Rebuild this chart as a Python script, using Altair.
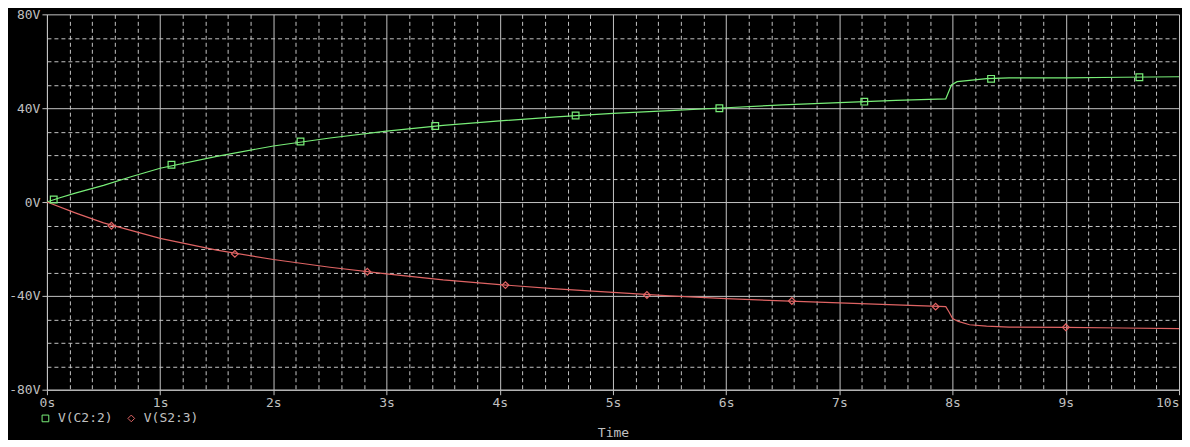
import altair as alt
import pandas as pd

# ---- data ----
series_names = ["V(C2:2)", "V(S2:3)"]

green_t = [0, 0.1, 0.25, 0.5, 0.75, 1.0, 1.5, 2.0, 2.5, 3.0, 3.5, 4.0, 4.5, 5.0, 5.5,
           6.0, 6.5, 7.0, 7.5, 7.94, 7.97, 7.99, 8.04, 8.15, 8.3, 8.5, 9.0, 9.5, 10.0]
green_v = [0, 1.6, 3.8, 7.1, 10.9, 14.4, 19.5, 23.9, 27.3, 30.2, 32.7, 34.6, 36.3, 37.8, 39.0,
           40.2, 41.4, 42.4, 43.3, 44.0, 47.5, 49.9, 51.3, 51.9, 52.6, 52.9, 52.9, 53.2, 53.4]

red_t = [0, 0.25, 0.5, 1.0, 1.5, 2.0, 2.5, 3.0, 3.5, 4.0, 4.5, 5.0, 5.5, 6.0, 6.5, 7.0,
         7.5, 7.94, 7.97, 8.0, 8.05, 8.15, 8.3, 8.5, 9.0, 9.5, 10.0]
red_v = [0, -4.6, -8.9, -15.5, -20.5, -24.5, -27.8, -30.6, -33.2, -35.2, -37.0, -38.5, -40.0,
         -41.2, -42.1, -43.0, -43.8, -44.6, -47.0, -49.7, -50.9, -52.3, -52.9, -53.3, -53.4, -53.7, -54.0]

green_mark_t = [0.06, 1.10, 2.24, 3.43, 4.67, 5.94, 7.22, 8.34, 9.65]
green_mark_v = [1.1, 15.9, 25.8, 32.4, 36.9, 40.0, 42.8, 52.5, 53.2]

red_mark_t = [0.57, 1.66, 2.83, 4.05, 5.30, 6.58, 7.85, 9.00]
red_mark_v = [-10.1, -22.1, -29.7, -35.4, -39.6, -42.2, -44.6, -53.4]

x_ticks = [0, 0.2, 0.4, 0.6, 0.8, 1, 1.2, 1.4, 1.6, 1.8, 2, 2.2, 2.4, 2.6, 2.8, 3, 3.2, 3.4, 3.6, 3.8,
           4, 4.2, 4.4, 4.6, 4.8, 5, 5.2, 5.4, 5.6, 5.8, 6, 6.2, 6.4, 6.6, 6.8, 7, 7.2, 7.4, 7.6, 7.8,
           8, 8.2, 8.4, 8.6, 8.8, 9, 9.2, 9.4, 9.6, 9.8, 10]
y_ticks = [-80, -70, -60, -50, -40, -30, -20, -10, 0, 10, 20, 30, 40, 50, 60, 70, 80]

# ---- tables ----
lines = pd.concat([
    pd.DataFrame({"t": green_t, "v": green_v, "s": series_names[0]}),
    pd.DataFrame({"t": red_t, "v": red_v, "s": series_names[1]}),
])
marks = pd.concat([
    pd.DataFrame({"t": green_mark_t, "v": green_mark_v, "s": series_names[0]}),
    pd.DataFrame({"t": red_mark_t, "v": red_mark_v, "s": series_names[1]}),
])

GRID = "#c4c4c4"
TEXT = "#c0c0c0"
FONT = "DejaVu Sans Mono"
colors = ["#78ee78", "#e06464"]

is_sec = "abs(datum.value - round(datum.value)) < 0.001"
is_40 = "datum.value % 40 === 0"

x_axis = alt.Axis(
    values=x_ticks, tickCount=200, title="Time", titleColor=TEXT, titleFont=FONT, titleFontSize=13,
    titleFontWeight="normal", titlePadding=17,
    labelExpr=f"{is_sec} ? round(datum.value) + 's' : ''",
    labelFlush=False, labelOverlap=False, labelPadding=2,
    labelAlign={"condition": {"test": "datum.value >= 10", "value": "right"}, "value": "center"},
    labelColor=TEXT, labelFont=FONT, labelFontSize=13,
    grid=True, gridColor=GRID, gridWidth=1,
    gridDash={"condition": {"test": is_sec, "value": []}, "value": [4, 3]},
    ticks=True, tickColor=GRID, tickSize=5,
    tickOpacity={"condition": {"test": is_sec, "value": 1}, "value": 0},
    domain=True, domainColor=GRID,
)
y_axis = alt.Axis(
    values=y_ticks, tickCount=200, title=None,
    labelExpr=f"{is_40} ? datum.value + 'V' : ''",
    labelOverlap=False, labelPadding=2,
    labelColor=TEXT, labelFont=FONT, labelFontSize=13,
    grid=True, gridColor=GRID, gridWidth=1,
    gridDash={"condition": {"test": is_40, "value": []}, "value": [4, 3]},
    ticks=True, tickColor=GRID, tickSize=5,
    tickOpacity={"condition": {"test": is_40, "value": 1}, "value": 0},
    domain=True, domainColor=GRID,
)

xs = alt.Scale(domain=[0, 10], nice=False, zero=False)
ys = alt.Scale(domain=[-80, 80], nice=False, zero=False)
cs = alt.Scale(domain=series_names, range=colors)
ss = alt.Scale(domain=series_names, range=["square", "diamond"])

legend = alt.Legend(
    title=None, orient="none", direction="horizontal", legendX=-8, legendY=398,
    labelColor=TEXT, labelFont=FONT, labelFontSize=13, symbolSize=45,
    symbolStrokeWidth=1, symbolFillColor="transparent", columnPadding=12,
    labelOffset=6,
)

line_layer = alt.Chart(lines).mark_line(strokeWidth=1.2, clip=True).encode(
    x=alt.X("t:Q", scale=xs, axis=x_axis),
    y=alt.Y("v:Q", scale=ys, axis=y_axis),
    color=alt.Color("s:N", scale=cs, legend=legend),
    detail="s:N",
)
point_layer = alt.Chart(marks).mark_point(filled=False, strokeWidth=1.2, size=45, opacity=1).encode(
    x=alt.X("t:Q", scale=xs),
    y=alt.Y("v:Q", scale=ys),
    color=alt.Color("s:N", scale=cs, legend=legend),
    shape=alt.Shape("s:N", scale=ss, legend=legend),
)

chart = alt.layer(line_layer, point_layer).properties(
    width=1134, height=376, background="black",
    padding={"left": 0, "top": 0, "right": 2, "bottom": 0},
).configure_view(stroke=None)

chart.save("out.html", embed_options={"renderer": "svg", "actions": False})
